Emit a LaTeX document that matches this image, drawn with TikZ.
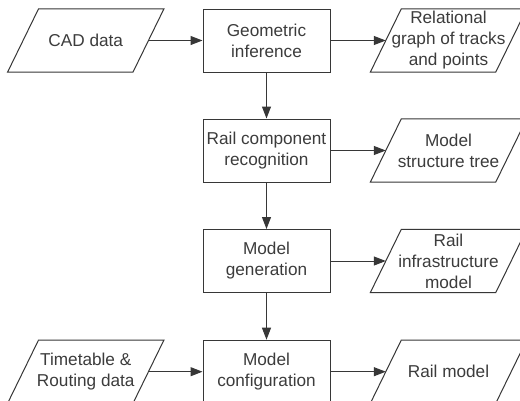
\documentclass[tikz,border=0pt]{standalone}
\usepackage{fontspec}
\setmainfont{Liberation Sans}
\usetikzlibrary{arrows.meta}
\definecolor{linec}{RGB}{55,55,55}
\definecolor{textc}{RGB}{60,60,60}
\tikzset{
  every node/.style={font=\fontsize{17.2}{21}\selectfont, text=textc, align=center, inner sep=0pt},
  procbox/.style={draw=linec, line width=1pt, minimum width=127pt, minimum height=63pt},
  databox/.style={minimum width=125pt, minimum height=63pt},
  flow/.style={draw=linec, line width=1pt, -{Triangle[length=12pt,width=9pt]}},
  paraline/.style={draw=linec, line width=1pt, line join=miter}
}
\begin{document}
\begin{tikzpicture}[x=1pt, y=-1pt]
\useasboundingbox (0,0) rectangle (520,400);
\clip (0,0) rectangle (520,400);
\fill[white] (0,0) rectangle (520,400);
% process boxes
\node[procbox] (geo) at (266.5,40.5) {Geometric\\inference};
\node[procbox] (rec) at (266.5,150.5) {Rail component\\recognition};
\node[procbox] (gen) at (266.5,261) {Model\\generation};
\node[procbox] (conf) at (266.5,371.7) {Model\\configuration};
% data nodes
\node[databox] (cad) at (85.75,40.5) {CAD data};
\node[databox] (tt) at (85.75,371.7) {Timetable \&\\Routing data};
\node[databox] (rel) at (448.5,40.5) {Relational\\graph of tracks\\and points};
\node[databox] (tree) at (448.5,150.5) {Model\\structure tree};
\node[databox] (infra) at (448.5,261) {Rail\\infrastructure\\model};
\node[databox] (rail) at (448.5,371.7) {Rail model};
\foreach \n in {cad,tt,rel,tree,infra,rail}
  \draw[paraline] ([xshift=15.5pt]\n.north west) -- ([xshift=15.5pt]\n.north east)
    -- ([xshift=-15.5pt]\n.south east) -- ([xshift=-15.5pt]\n.south west) -- cycle;
% connectors
\draw[flow] (cad.east) -- (geo.west);
\draw[flow] (tt.east) -- (conf.west);
\draw[flow] (geo.east) -- (rel.west);
\draw[flow] (rec.east) -- (tree.west);
\draw[flow] (gen.east) -- (infra.west);
\draw[flow] (conf.east) -- (rail.west);
\draw[flow] (geo.south) -- (rec.north);
\draw[flow] (rec.south) -- (gen.north);
\draw[flow] (gen.south) -- (conf.north);
\end{tikzpicture}
\end{document}
